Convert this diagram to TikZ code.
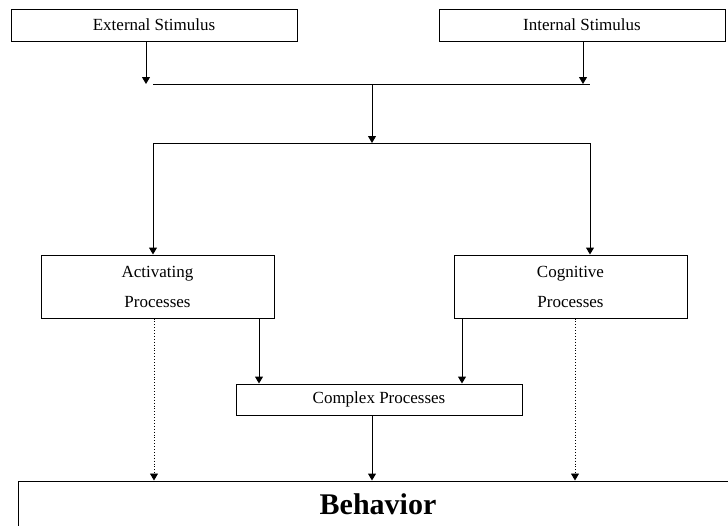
\documentclass[tikz,border=0pt]{standalone}
\usepackage{fontspec}
\setmainfont{Liberation Serif}
\usepackage{tikz}
\usetikzlibrary{positioning, arrows.meta}

\tikzset{
  procbox/.style = {draw, line width=1pt, inner sep=0pt, align=center,
                    font=\fontsize{17}{30}\selectfont},
  arr/.style = {line width=1pt, -{Triangle[width=8pt,length=7pt]}},
  dotarr/.style = {line width=0.9pt, dotted, -{Triangle[width=8pt,length=7pt]}},
  bus/.style = {line width=1pt}
}

\begin{document}
\begin{tikzpicture}[x=1pt, y=-1pt]
\useasboundingbox (0, 0) rectangle (728, 525);
\clip (0, 0) rectangle (728, 525);
% boxes
\node [procbox, minimum width=286, minimum height=32] (ext) at (154, 25) {External Stimulus};
\node [procbox, minimum width=286, minimum height=32] (int) at (582, 25) {Internal Stimulus};
\node [procbox, minimum width=233, minimum height=63] (act) at (157.5, 286.5) {Activating\\Processes};
\node [procbox, minimum width=233, minimum height=63] (cog) at (570.5, 286.5) {Cognitive\\Processes};
\node [procbox, minimum width=286, minimum height=31] (cpx) at (379, 399.5) {Complex Processes};
\node [procbox, minimum width=720, minimum height=46, font=\fontsize{30}{36}\selectfont\bfseries] (beh) at (378, 504) {Behavior};
% junctions
\coordinate (inL) at (146, 84);
\coordinate (inR) at (583, 84);
\coordinate (busL) at (153, 84);
\coordinate (busR) at (590, 84);
\coordinate (busM) at (372, 84);
\coordinate (split) at (372, 143);
\coordinate (splitL) at (153, 143);
\coordinate (splitR) at (590, 143);
% connectors
\draw [arr] (ext.south -| inL) -- (inL);
\draw [arr] (int.south -| inR) -- (inR);
\draw [bus] (busL) -- (busR);
\draw [arr] (busM) -- (split);
\draw [bus] (splitL) -- (splitR);
\draw [arr] (splitL) -- (act.north -| splitL);
\draw [arr] (splitR) -- (cog.north -| splitR);
\draw [arr] ([xshift=101.5]act.south) -- ([xshift=101.5]act.south |- cpx.north);
\draw [arr] ([xshift=-108.5]cog.south) -- ([xshift=-108.5]cog.south |- cpx.north);
\draw [dotarr] ([xshift=-3.5]act.south) -- ([xshift=-3.5]act.south |- beh.north);
\draw [dotarr] ([xshift=4.5]cog.south) -- ([xshift=4.5]cog.south |- beh.north);
\draw [arr] ([xshift=-7]cpx.south) -- ([xshift=-7]cpx.south |- beh.north);
\end{tikzpicture}
\end{document}
